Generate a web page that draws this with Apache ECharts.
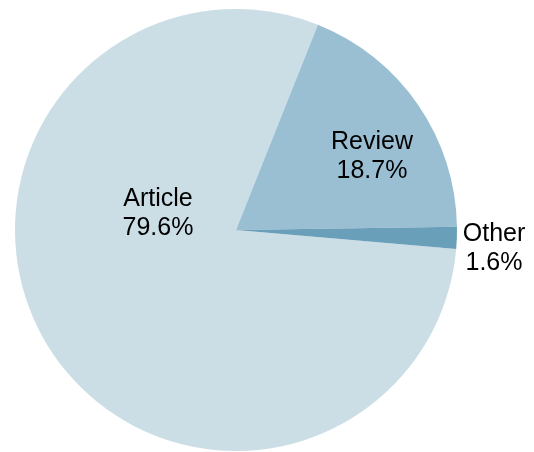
<!DOCTYPE html>
<html>
<head>
<meta charset="utf-8">
<script src="https://cdn.jsdelivr.net/npm/echarts@6/dist/echarts.min.js"></script>
<style>
html,body{margin:0;padding:0;background:#fff;}
#chart{width:534px;height:452px;}
</style>
</head>
<body>
<div id="chart"></div>
<script>
const categories = ['Article', 'Review', 'Other'];
const values = [79.6, 18.7, 1.6];
const colors = ['#cbdee6', '#9bbfd2', '#6a9fb9'];

// label anchor points (pixels) for each slice label
const labelPos = [[158, 214], [372, 157], [494, 249]];

const chart = echarts.init(document.getElementById('chart'), null, {renderer: 'canvas'});
chart.setOption({
  animation: false,
  backgroundColor: '#ffffff',
  series: [{
    type: 'pie',
    center: [236, 230],
    radius: 221,
    startAngle: 355.1,
    clockwise: true,
    avoidLabelOverlap: false,
    data: categories.map((c, i) => ({name: c, value: values[i], itemStyle: {color: colors[i]}})),
    itemStyle: {borderWidth: 0},
    label: {
      show: true,
      position: 'inside',
      formatter: p => p.name + '\n' + p.value.toFixed(1) + '%',
      fontFamily: 'Liberation Sans, Arial, sans-serif',
      fontSize: 25,
      lineHeight: 29,
      color: '#000',
      align: 'center',
      verticalAlign: 'middle'
    },
    labelLine: {show: false},
    labelLayout: function (params) {
      const p = labelPos[params.dataIndex];
      return {x: p[0], y: p[1], align: 'center', verticalAlign: 'middle'};
    },
    emphasis: {disabled: true}
  }]
});
</script>
</body>
</html>
